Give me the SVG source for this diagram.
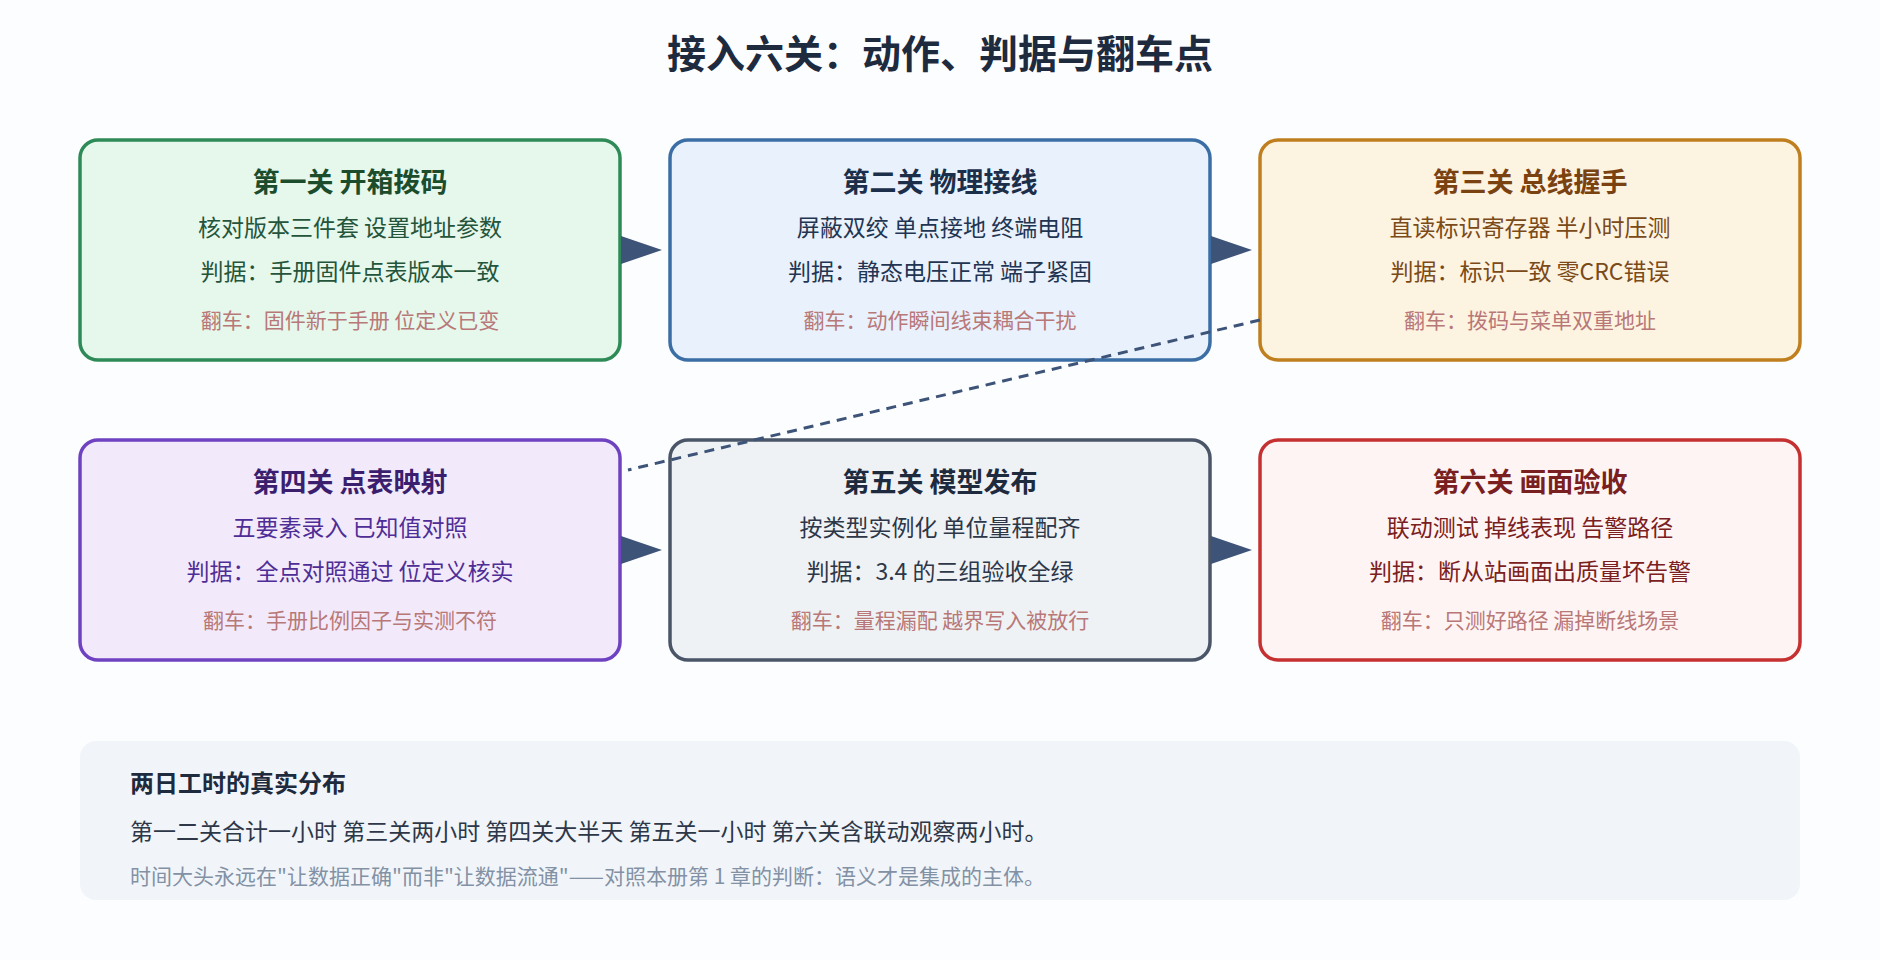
<svg xmlns="http://www.w3.org/2000/svg" width="1880" height="960" viewBox="0 0 1880 960">
<style>
text{font-family:"Noto Sans CJK SC","Noto Sans",sans-serif;text-anchor:middle}
.h{font-size:27px;font-weight:bold}
.b{font-size:23px}
.f{font-size:21px;fill:#b87878}
.box{stroke-width:3.5}
</style>
<rect width="1880" height="960" fill="#fcfdff"/>
<text x="940" y="68" style="font-size:39px;font-weight:bold;fill:#1e2a3d">接入六关：动作、判据与翻车点</text>
<g id="n1"><rect class="box" x="80" y="140" width="540" height="220" rx="18" fill="#e6f7ec" stroke="#2e8b57"/>
<text x="350" y="192" class="h" fill="#1b4d2c">第一关 开箱拨码</text>
<text x="350" y="236" class="b" fill="#24543a">核对版本三件套 设置地址参数</text>
<text x="350" y="280" class="b" fill="#24543a">判据：手册固件点表版本一致</text>
<text x="350" y="328" class="f">翻车：固件新于手册 位定义已变</text></g>
<g id="n2"><rect class="box" x="670" y="140" width="540" height="220" rx="18" fill="#e9f1fc" stroke="#3b6ea5"/>
<text x="940" y="192" class="h" fill="#1b2e4a">第二关 物理接线</text>
<text x="940" y="236" class="b" fill="#1f3552">屏蔽双绞 单点接地 终端电阻</text>
<text x="940" y="280" class="b" fill="#1f3552">判据：静态电压正常 端子紧固</text>
<text x="940" y="328" class="f">翻车：动作瞬间线束耦合干扰</text></g>
<g id="n3"><rect class="box" x="1260" y="140" width="540" height="220" rx="18" fill="#fdf3e1" stroke="#c07f1f"/>
<text x="1530" y="192" class="h" fill="#7a4210">第三关 总线握手</text>
<text x="1530" y="236" class="b" fill="#7a4a18">直读标识寄存器 半小时压测</text>
<text x="1530" y="280" class="b" fill="#7a4a18">判据：标识一致 零CRC错误</text>
<text x="1530" y="328" class="f">翻车：拨码与菜单双重地址</text></g>
<g id="n4"><rect class="box" x="80" y="440" width="540" height="220" rx="18" fill="#f2eafb" stroke="#6f42c1"/>
<text x="350" y="492" class="h" fill="#3b1f6e">第四关 点表映射</text>
<text x="350" y="536" class="b" fill="#4f2d96">五要素录入 已知值对照</text>
<text x="350" y="580" class="b" fill="#4f2d96">判据：全点对照通过 位定义核实</text>
<text x="350" y="628" class="f">翻车：手册比例因子与实测不符</text></g>
<g id="n5"><rect class="box" x="670" y="440" width="540" height="220" rx="18" fill="#eff2f5" stroke="#4a5568"/>
<text x="940" y="492" class="h" fill="#1e2a3d">第五关 模型发布</text>
<text x="940" y="536" class="b" fill="#2d3748">按类型实例化 单位量程配齐</text>
<text x="940" y="580" class="b" fill="#2d3748">判据：3.4 的三组验收全绿</text>
<text x="940" y="628" class="f">翻车：量程漏配 越界写入被放行</text></g>
<g id="n6"><rect class="box" x="1260" y="440" width="540" height="220" rx="18" fill="#fff4f4" stroke="#c53030"/>
<text x="1530" y="492" class="h" fill="#7a1f1f">第六关 画面验收</text>
<text x="1530" y="536" class="b" fill="#7a2020">联动测试 掉线表现 告警路径</text>
<text x="1530" y="580" class="b" fill="#7a2020">判据：断从站画面出质量坏告警</text>
<text x="1530" y="628" class="f">翻车：只测好路径 漏掉断线场景</text></g>
<g id="connectors" fill="#3d5478">
<polygon points="621,236 662,250 621,264"/>
<polygon points="1211,236 1252,250 1211,264"/>
<polygon points="621,536 662,550 621,564"/>
<polygon points="1211,536 1252,550 1211,564"/>
<line x1="1260" y1="320" x2="628" y2="470" stroke="#3d5478" stroke-width="3" stroke-dasharray="10,7"/>
</g>
<g id="summary"><rect x="80" y="741" width="1720" height="159" rx="16" fill="#f1f5f9"/>
<text x="130" y="792" style="text-anchor:start;font-size:24px;font-weight:bold;fill:#1e2a3d">两日工时的真实分布</text>
<text x="130" y="840" style="text-anchor:start;font-size:23px;fill:#2d3748">第一二关合计一小时 第三关两小时 第四关大半天 第五关一小时 第六关含联动观察两小时。</text>
<text x="130" y="884" style="text-anchor:start;font-size:21px;fill:#8391a5">时间大头永远在"让数据正确"而非"让数据流通"——对照本册第 1 章的判断：语义才是集成的主体。</text></g>
</svg>
